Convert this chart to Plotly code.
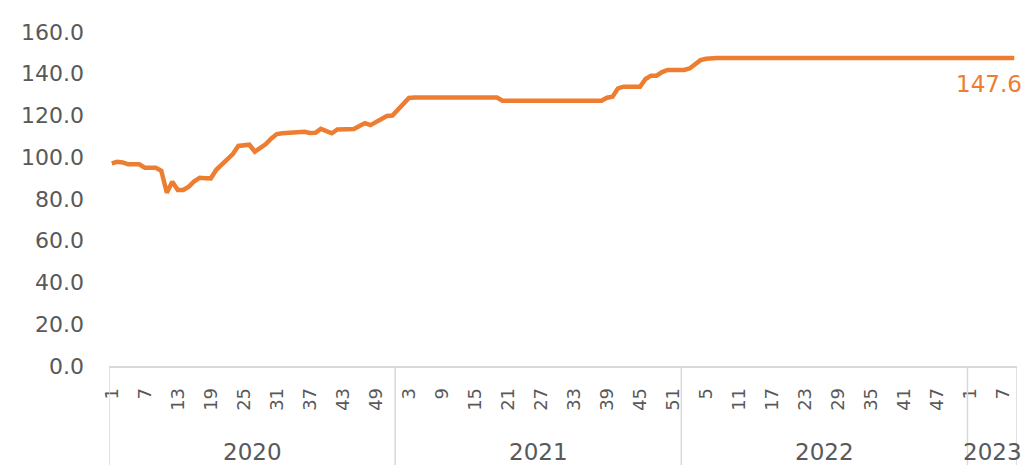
import plotly.graph_objects as go

# ---- data ----
years = ["2020", "2021", "2022", "2023"]
weeks_2020 = list(range(1, 53))
weeks_2021 = list(range(1, 53))
weeks_2022 = list(range(1, 53))
weeks_2023 = list(range(1, 10))

values_2020 = [97.1, 97.8, 97.5, 96.6, 96.6, 96.6, 95.0, 95.0, 95.0, 93.5,
               83.0, 88.3, 84.3, 84.3, 85.9, 88.5, 90.2, 90.0, 89.9, 94.0,
               96.5, 99.2, 101.5, 105.4, 105.7, 106.0, 102.7, 104.2, 106.3, 109.0,
               111.1, 111.5, 111.8, 111.9, 112.0, 112.2, 111.6, 111.7, 113.6, 112.8,
               111.5, 113.3, 113.5, 113.5, 113.5, 115.0, 116.3, 115.4, 117.0, 118.5,
               119.8, 120.0]
values_2021 = [123.0, 126.0, 128.4, 128.6, 128.6, 128.6, 128.6, 128.6, 128.6, 128.6,
               128.6, 128.6, 128.6, 128.6, 128.6, 128.6, 128.6, 128.6, 128.6, 127.1,
               127.1, 127.1, 127.1, 127.1, 127.1, 127.1, 127.1, 127.1, 127.1, 127.1,
               127.1, 127.1, 127.1, 127.1, 127.1, 127.1, 127.1, 127.1, 128.5, 129.0,
               133.0, 133.8, 133.8, 133.8, 133.8, 137.5, 139.1, 139.1, 140.8, 141.8,
               141.8, 141.8]
values_2022 = [141.8, 142.5, 144.5, 146.5, 147.2, 147.6, 147.6, 147.6, 147.6, 147.6,
               147.6, 147.6, 147.6, 147.6, 147.6, 147.6, 147.6, 147.6, 147.6, 147.6,
               147.6, 147.6, 147.6, 147.6, 147.6, 147.6, 147.6, 147.6, 147.6, 147.6,
               147.6, 147.6, 147.6, 147.6, 147.6, 147.6, 147.6, 147.6, 147.6, 147.6,
               147.6, 147.6, 147.6, 147.6, 147.6, 147.6, 147.6, 147.6, 147.6, 147.6,
               147.6, 147.6]
values_2023 = [147.6, 147.6, 147.6, 147.6, 147.6, 147.6, 147.6, 147.6, 147.6]

last_label = "147.6"

# ---- build sequence ----
week_lists = [weeks_2020, weeks_2021, weeks_2022, weeks_2023]
value_lists = [values_2020, values_2021, values_2022, values_2023]
weeks = [w for wl in week_lists for w in wl]
values = [v for vl in value_lists for v in vl]
idx = list(range(len(values)))

tick_step = 6
tickvals = idx[::tick_step]
ticktext = [str(weeks[i]) for i in tickvals]

ORANGE = "#ED7D31"
GRAY_TXT = "#595959"
GRAY_LN = "#D9D9D9"
FONT = "DejaVu Sans"

fig = go.Figure()
fig.add_trace(go.Scatter(x=idx, y=values, mode="lines",
                         line=dict(color=ORANGE, width=4.5), hoverinfo="skip"))

n = len(values)
fig.update_xaxes(range=[-0.5, n - 0.5], tickmode="array", tickvals=tickvals,
                 ticktext=ticktext, tickangle=-90, showgrid=False, zeroline=False,
                 showline=True, linecolor=GRAY_LN, linewidth=1.5,
                 ticks="", ticklabelstandoff=13,
                 tickfont=dict(family=FONT, size=18, color=GRAY_TXT))
fig.update_yaxes(range=[0, 160], dtick=20, tickformat=".1f", showgrid=False,
                 zeroline=False, showline=False, ticks="", ticklabelstandoff=24,
                 tickfont=dict(family=FONT, size=22, color=GRAY_TXT))

# year group separators and labels
shapes = []
annotations = []
start = 0
bounds = [-0.5]
for y, wl in zip(years, week_lists):
    end = start + len(wl)
    bounds.append(end - 0.5)
    annotations.append(dict(x=(start - 0.5 + end - 0.5) / 2, y=-0.258, xref="x",
                            yref="paper", text=y, showarrow=False,
                            xanchor="center", yanchor="middle",
                            font=dict(family=FONT, size=23, color=GRAY_TXT)))
    start = end
for b in bounds:
    shapes.append(dict(type="line", xref="x", yref="paper", x0=b, x1=b,
                       y0=0, y1=-0.3, line=dict(color=GRAY_LN, width=1.5)))

annotations.append(dict(x=idx[-1], y=values[-1], xref="x", yref="y",
                        text=last_label, showarrow=False, xanchor="right",
                        yanchor="middle", xshift=10, yshift=-26,
                        font=dict(family=FONT, size=23, color=ORANGE)))

fig.update_layout(width=1029, height=465, margin=dict(l=109, r=12, t=32, b=99),
                  plot_bgcolor="white", paper_bgcolor="white", showlegend=False,
                  shapes=shapes, annotations=annotations)

fig.write_html("out.html", config={"displayModeBar": False},
               post_script="document.body.style.margin='0';document.body.style.overflow='hidden';")
